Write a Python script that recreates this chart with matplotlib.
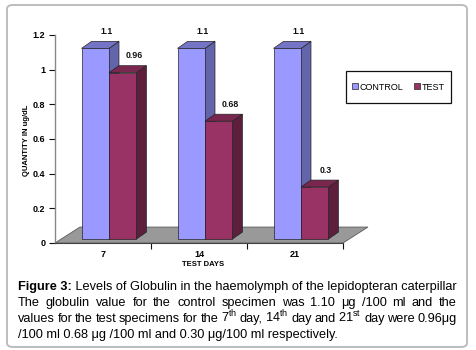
import numpy as np
import matplotlib
matplotlib.use("Agg")
import matplotlib.pyplot as plt
from matplotlib.patches import Polygon, Rectangle, FancyBboxPatch, Patch

plt.rcParams['font.family'] = ['Liberation Sans', 'DejaVu Sans']
plt.rcParams['mathtext.fontset'] = 'custom'
plt.rcParams['mathtext.rm'] = 'Liberation Sans'

# data
days = ['7', '14', '21']
control = [1.1, 1.1, 1.1]
test = [0.96, 0.68, 0.3]
control_labels = ['1.1', '1.1', '1.1']
test_labels = ['0.96', '0.68', '0.3']
yticks = [0, 0.2, 0.4, 0.6, 0.8, 1, 1.2]

W, H = 476, 350
fig = plt.figure(figsize=(W / 100, H / 100), dpi=100)

# outer rounded frame
fig.patches.append(FancyBboxPatch((7 / W, 3 / H), 460 / W, 342 / H,
                                  boxstyle="round,pad=0,rounding_size=0.012",
                                  transform=fig.transFigure, facecolor='white',
                                  edgecolor='#b8b8b8', lw=1.3, zorder=-5))

ax = fig.add_axes([55 / W, 107 / H, 288 / W, 208 / H])
ax.set_xlim(-0.5, 2.5)
ax.set_ylim(0, 1.2)
ax.patch.set_alpha(0)

# 3d look: offsets in data units (x: 96 px per category, y: 173.5 px per unit)
bar_w = 0.286
shift_x, shift_y = 0.0625, 0.023
dep_x, dep_y = 0.104, 0.040
floor_x, floor_y = 0.26, 0.092

floor = Polygon([(-0.5, 0), (2.5, 0), (2.5 + floor_x, floor_y), (-0.5 + floor_x, floor_y)],
                closed=True, facecolor='#999999', edgecolor='#5a5a5a', lw=0.6,
                clip_on=False, zorder=1)
ax.add_patch(floor)


def bar3d(x0, h, front, top, side):
    b = shift_y
    ax.add_patch(Polygon([(x0 + bar_w, b), (x0 + bar_w + dep_x, b + dep_y),
                          (x0 + bar_w + dep_x, b + h + dep_y), (x0 + bar_w, b + h)],
                         closed=True, facecolor=side, edgecolor='#222222', lw=0.5,
                         clip_on=False, zorder=2))
    ax.add_patch(Polygon([(x0, b + h), (x0 + bar_w, b + h),
                          (x0 + bar_w + dep_x, b + h + dep_y), (x0 + dep_x, b + h + dep_y)],
                         closed=True, facecolor=top, edgecolor='#222222', lw=0.5,
                         clip_on=False, zorder=2))
    ax.add_patch(Rectangle((x0, b), bar_w, h, facecolor=front, edgecolor='#222222',
                           lw=0.5, clip_on=False, zorder=2))


for i in range(len(days)):
    xc = i + shift_x
    bar3d(xc - bar_w, control[i], '#9999ff', '#7575c8', '#6464aa')
    bar3d(xc, test[i], '#993366', '#7a2750', '#5e1f3d')
    ax.text(xc - bar_w / 2 + 0.115, shift_y + control[i] + dep_y + 0.058,
            control_labels[i], ha='center', va='center', fontsize=6.3,
            fontweight='bold', color='#111111')
    ax.text(xc + bar_w / 2 + 0.115, shift_y + test[i] + dep_y + 0.058,
            test_labels[i], ha='center', va='center', fontsize=6.3,
            fontweight='bold', color='#111111')

for s in ['top', 'right']:
    ax.spines[s].set_visible(False)
ax.spines['left'].set_color('#888888')
ax.spines['bottom'].set_color('#444444')
ax.spines['left'].set_linewidth(1.0)
ax.spines['bottom'].set_linewidth(0.8)

ax.set_yticks(yticks)
ax.set_yticklabels([str(v) for v in yticks], fontsize=6.5, fontweight='bold')
ax.tick_params(axis='y', length=4, width=0.8, pad=3, color='#111111')
ax.set_xticks([0, 1, 2])
ax.set_xticklabels(days, fontsize=6.5, fontweight='bold')
ax.tick_params(axis='x', length=0, pad=5)
ax.set_xticks([0.5, 1.5, 2.5], minor=True)
ax.tick_params(axis='x', which='minor', length=4, width=0.8, color='#111111')

fig.text(27 / W, 1 - 140 / H, 'QUANTITY IN ug/dL', rotation=90, ha='center', va='center',
         fontsize=5.5, fontweight='bold')
fig.text(203 / W, 1 - 265 / H, 'TEST DAYS', ha='center', va='center',
         fontsize=5.5, fontweight='bold')

# legend
fig.patches.append(Rectangle((346 / W, 1 - 103 / H), 105 / W, 32 / H, transform=fig.transFigure,
                             facecolor='white', edgecolor='#111111', lw=0.9, zorder=1))
handles = [Patch(facecolor='#9999ff', edgecolor='#222222', lw=0.5, label='CONTROL'),
           Patch(facecolor='#993366', edgecolor='#222222', lw=0.5, label='TEST')]
fig.legend(handles=handles, loc='center', bbox_to_anchor=(398.5 / W, 1 - 87 / H),
           ncol=2, frameon=False, fontsize=6.5, handlelength=0.6, handleheight=0.6,
           handletextpad=0.2, columnspacing=1.2, borderpad=0)

# caption (word by word so lines 2-3 can be justified)
cap_size = 9.2
x_left, x_right = 18, 457
renderer = fig.canvas.get_renderer()


def line_words(words, ybase, justify):
    texts = []
    for w, wt in words:
        texts.append(fig.text(0, 1 - ybase / H, w, fontsize=cap_size, fontweight=wt,
                              va='baseline', ha='left'))
    widths = [t.get_window_extent(renderer).width for t in texts]
    if justify and len(texts) > 1:
        gap = (x_right - x_left - sum(widths)) / (len(texts) - 1)
    else:
        gap = 0
    x = x_left
    for t, wd in zip(texts, widths):
        t.set_x(x / W)
        x += wd + gap


line_words([('Figure 3:', 'bold'),
            (' Levels of Globulin in the haemolymph of the lepidopteran caterpillar', 'normal')],
           290, False)
l2 = 'The globulin value for the control specimen was 1.10 μg /100 ml and the'
line_words([(w, 'normal') for w in l2.split(' ')], 306, True)
l3 = ['values', 'for', 'the', 'test', 'specimens', 'for', 'the', r'7$^{\mathrm{th}}$', 'day,',
      r'14$^{\mathrm{th}}$', 'day', 'and', r'21$^{\mathrm{st}}$', 'day', 'were', '0.96μg']
line_words([(w, 'normal') for w in l3], 322, True)
line_words([('/100 ml 0.68 μg /100 ml and 0.30 μg/100 ml respectively.', 'normal')], 338, False)

fig.savefig('out.png', dpi=100)
